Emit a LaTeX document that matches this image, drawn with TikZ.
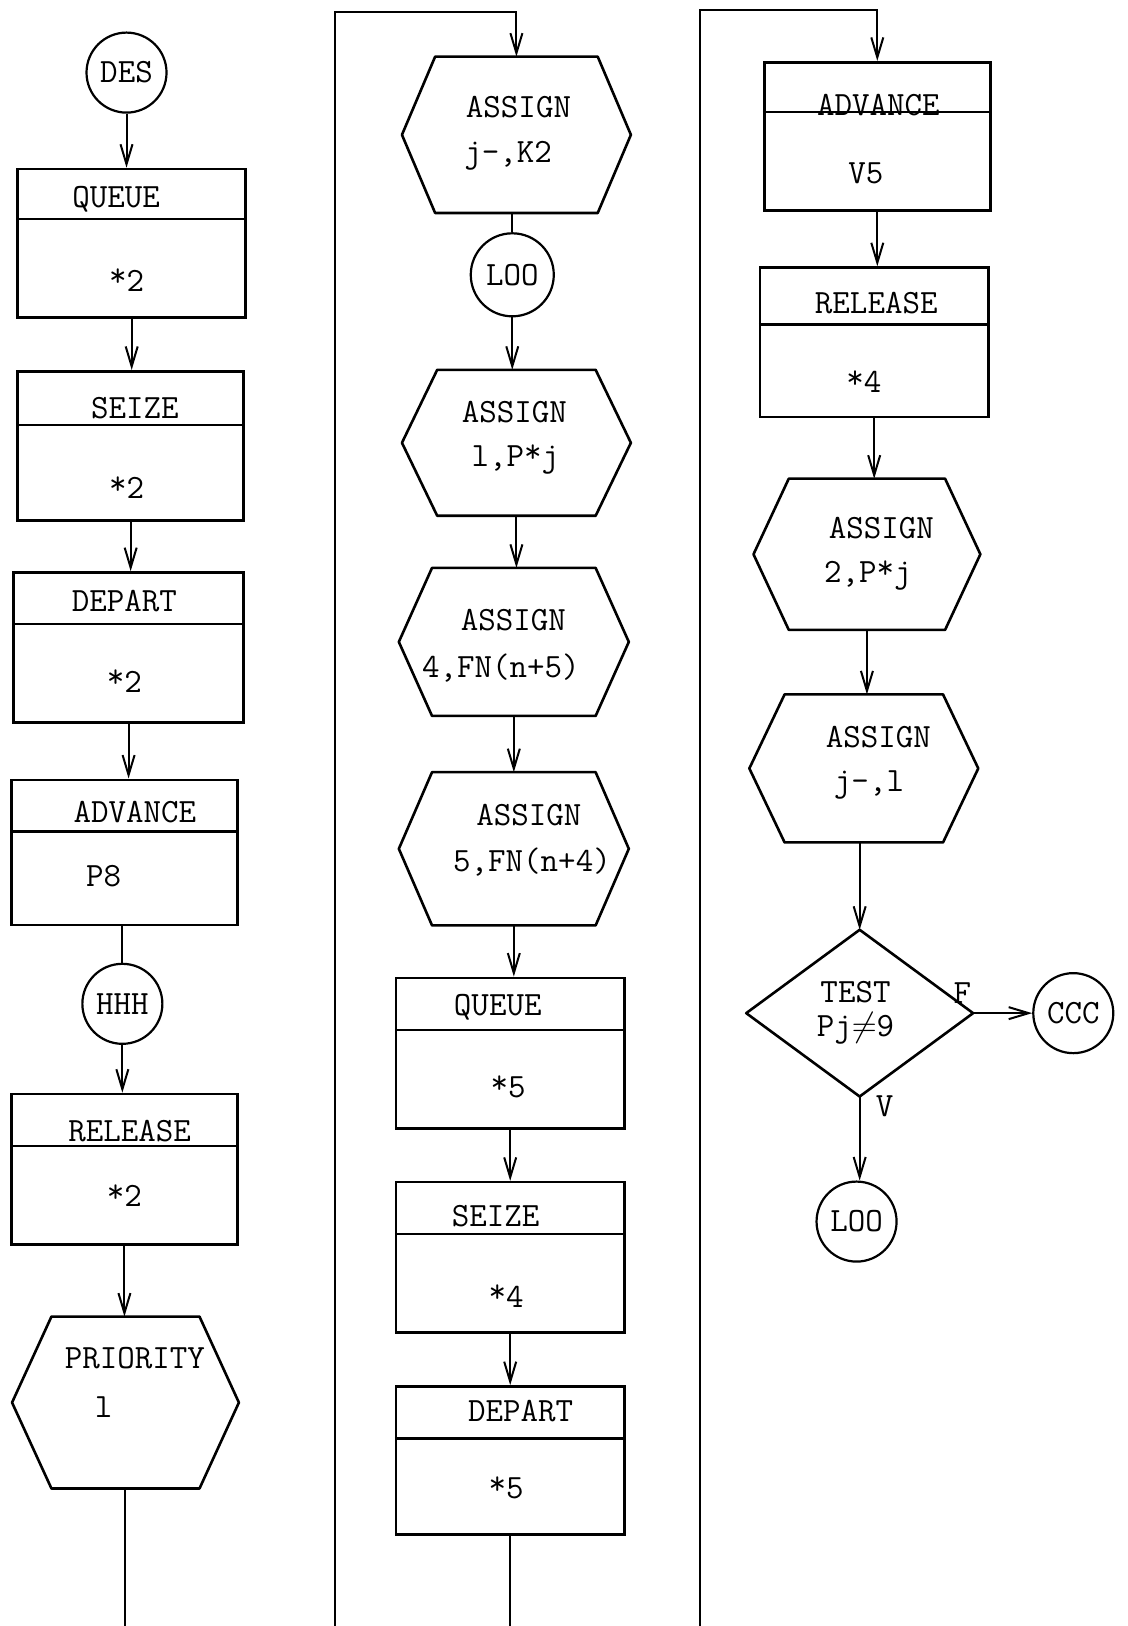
\documentclass[tikz,border=0pt]{standalone}
\usepackage{fontspec}
\usetikzlibrary{arrows.meta,fit,calc}
\newcommand\gpssfont{\ttfamily\fontsize{17}{20}\selectfont}
% typewriter-style raised asterisk
\newcommand\tstar{\raisebox{0.3ex}{*}}
% hexagonal block drawn over an invisible frame node: #1 = frame, #2 = corner inset
\newcommand\hexblock[2]{%
  \draw[shapeline] (#1.west) -- ($(#1.north west)+(#2,0)$) -- ($(#1.north east)+(-#2,0)$)
    -- (#1.east) -- ($(#1.south east)+(-#2,0)$) -- ($(#1.south west)+(#2,0)$) -- cycle;}
\tikzset{
  blk/.style={draw, line width=1.3pt, inner sep=0pt},
  frame/.style={inner sep=0pt},
  shapeline/.style={line width=1.3pt, line join=round},
  divline/.style={line width=1.2pt},
  circ/.style={circle, draw, line width=1.1pt, inner sep=0pt, minimum size=40pt, font=\gpssfont},
  lab/.style={inner sep=0pt, font=\gpssfont},
  flow/.style={line width=1pt, -{Straight Barb[length=10pt,width=6pt,line width=1pt]}},
  link/.style={line width=1pt},
}
\begin{document}
\begin{tikzpicture}[x=0.5184pt,y=-0.5184pt]
\useasboundingbox (0,0) rectangle (1087,1568);

% ---------- left column ----------
\node[circ] (des) at (122,70) {DES};

\node[blk, fit={(17,163) (237,306)}] (q1) {};
\draw[divline] (q1.west |- 0,211) -- (q1.east |- 0,211);
\node[lab] (q1t) at (112,192) {QUEUE};
\node[lab] (q1a) at (122,270) {\tstar2};

\node[blk, fit={(17,358) (235,502)}] (s1) {};
\draw[divline] (s1.west |- 0,410) -- (s1.east |- 0,410);
\node[lab] (s1t) at (130,394) {SEIZE};
\node[lab] (s1a) at (122,470) {\tstar2};

\node[blk, fit={(13,552) (235,697)}] (d1) {};
\draw[divline] (d1.west |- 0,602) -- (d1.east |- 0,602);
\node[lab] (d1t) at (120,580) {DEPART};
\node[lab] (d1a) at (120,657) {\tstar2};

\node[blk, fit={(11,752) (229,892)}] (a1) {};
\draw[divline] (a1.west |- 0,802) -- (a1.east |- 0,802);
\node[lab] (a1t) at (130,783) {ADVANCE};
\node[lab] (a1a) at (100,845) {P8};

\node[circ] (hhh) at (118,968) {HHH};

\node[blk, fit={(11,1055) (229,1200)}] (r1) {};
\draw[divline] (r1.west |- 0,1105) -- (r1.east |- 0,1105);
\node[lab] (r1t) at (125,1091) {RELEASE};
\node[lab] (r1a) at (120,1153) {\tstar2};

\node[frame, fit={(12,1270) (230,1435)}] (pri) {};
\hexblock{pri}{38}
\node[lab] (prit) at (130,1310) {PRIORITY};
\node[lab] (pria) at (100,1357) {l};

\coordinate (lend) at (120,1568);

\draw[flow] (des.south) -- (des.south |- q1.north);
\draw[flow] (q1.south) -- (q1.south |- s1.north);
\draw[flow] (s1.south) -- (s1.south |- d1.north);
\draw[flow] (d1.south) -- (d1.south |- a1.north);
\draw[link] (a1.south -| hhh) -- (hhh.north);
\draw[flow] (hhh.south) -- (hhh.south |- r1.north);
\draw[flow] (r1.south) -- (r1.south |- pri.north);
\draw[link] (pri.south) -- (pri.south |- lend);

% ---------- middle column ----------
\coordinate (mtop) at (323,12);
\coordinate (mbot) at (323,1568);

\node[frame, fit={(388,55) (608,205)}] (g1) {};
\hexblock{g1}{32}
\node[lab] (g1t) at (500,103) {ASSIGN};
\node[lab] (g1a) at (490,150) {j-,K2};

\node[circ, minimum size=41.5pt] (loo1) at (494,265) {LOO};

\node[frame, fit={(388,357) (608,497)}] (g2) {};
\hexblock{g2}{34}
\node[lab] (g2t) at (496,397) {ASSIGN};
\node[lab] (g2a) at (497,443) {l,P\tstar j};

\node[frame, fit={(385,548) (606,690)}] (g3) {};
\hexblock{g3}{32}
\node[lab] (g3t) at (495,598) {ASSIGN};
\node[lab] (g3a) at (483,644) {4,FN(n+5)};

\node[frame, fit={(385,745) (606,892)}] (g4) {};
\hexblock{g4}{32}
\node[lab] (g4t) at (510,786) {ASSIGN};
\node[lab] (g4a) at (513,831) {5,FN(n+4)};

\node[blk, fit={(382,943) (602,1088)}] (q2) {};
\draw[divline] (q2.west |- 0,993) -- (q2.east |- 0,993);
\node[lab] (q2t) at (480,971) {QUEUE};
\node[lab] (q2a) at (490,1048) {\tstar5};

\node[blk, fit={(382,1140) (602,1285)}] (s2) {};
\draw[divline] (s2.west |- 0,1190) -- (s2.east |- 0,1190);
\node[lab] (s2t) at (478,1173) {SEIZE};
\node[lab] (s2a) at (488,1250) {\tstar4};

\node[blk, fit={(382,1337) (602,1480)}] (d2) {};
\draw[divline] (d2.west |- 0,1387) -- (d2.east |- 0,1387);
\node[lab] (d2t) at (502,1361) {DEPART};
\node[lab] (d2a) at (488,1435) {\tstar5};

\coordinate (mend) at (490,1568);

\draw[flow] (mbot) -- (mtop) -- (mtop -| g1.north) -- (g1.north);
\draw[link] (g1.south -| loo1) -- (loo1.north);
\draw[flow] (loo1.south) -- (loo1.south |- g2.north);
\draw[flow] (g2.south) -- (g2.south |- g3.north);
\draw[flow] (g3.south) -- (g3.south |- g4.north);
\draw[flow] (g4.south) -- (g4.south |- q2.north);
\draw[flow] (q2.south) -- (q2.south |- s2.north);
\draw[flow] (s2.south) -- (s2.south |- d2.north);
\draw[link] (d2.south) -- (d2.south |- mend);

% ---------- right column ----------
\coordinate (rtop) at (675,10);
\coordinate (rbot) at (675,1568);

\node[blk, fit={(737,60) (955,203)}] (a2) {};
\draw[divline] (a2.west |- 0,108) -- (a2.east |- 0,108);
\node[lab] (a2t) at (847,101) {ADVANCE};
\node[lab] (a2a) at (835,167) {V5};

\node[blk, fit={(733,258) (953,402)}] (r2) {};
\draw[divline] (r2.west |- 0,313) -- (r2.east |- 0,313);
\node[lab] (r2t) at (845,292) {RELEASE};
\node[lab] (r2a) at (833,368) {\tstar4};

\node[frame, fit={(727,462) (945,607)}] (g5) {};
\hexblock{g5}{34}
\node[lab] (g5t) at (850,509) {ASSIGN};
\node[lab] (g5a) at (837,555) {2,P\tstar j};

\node[frame, fit={(723,670) (943,812)}] (g6) {};
\hexblock{g6}{34}
\node[lab] (g6t) at (847,711) {ASSIGN};
\node[lab] (g6a) at (838,757) {j-,l};

\node[frame, fit={(720,897) (938,1057)}] (tst) {};
\draw[shapeline] (tst.north) -- (tst.east) -- (tst.south) -- (tst.west) -- cycle;
\node[lab] (tstt) at (825,957) {TEST};
\node[lab] (tsta) at (825,992) {Pj$\neq$9};
\node[lab] (lf) at (928,958) {F};
\node[lab] (lv) at (853,1067) {V};

\node[circ] (ccc) at (1035,977) {CCC};
\node[circ] (loo2) at (826,1178) {LOO};

\draw[flow] (rbot) -- (rtop) -- (rtop -| a2.north) -- (a2.north);
\draw[flow] (a2.south) -- (a2.south |- r2.north);
\draw[flow] (r2.south) -- (r2.south |- g5.north);
\draw[flow] (g5.south) -- (g5.south |- g6.north);
\draw[flow] (g6.south -| tst.north) -- (tst.north);
\draw[flow] (tst.east) -- (ccc.west);
\draw[flow] (tst.south) -- (tst.south |- loo2.north);
\end{tikzpicture}
\end{document}
